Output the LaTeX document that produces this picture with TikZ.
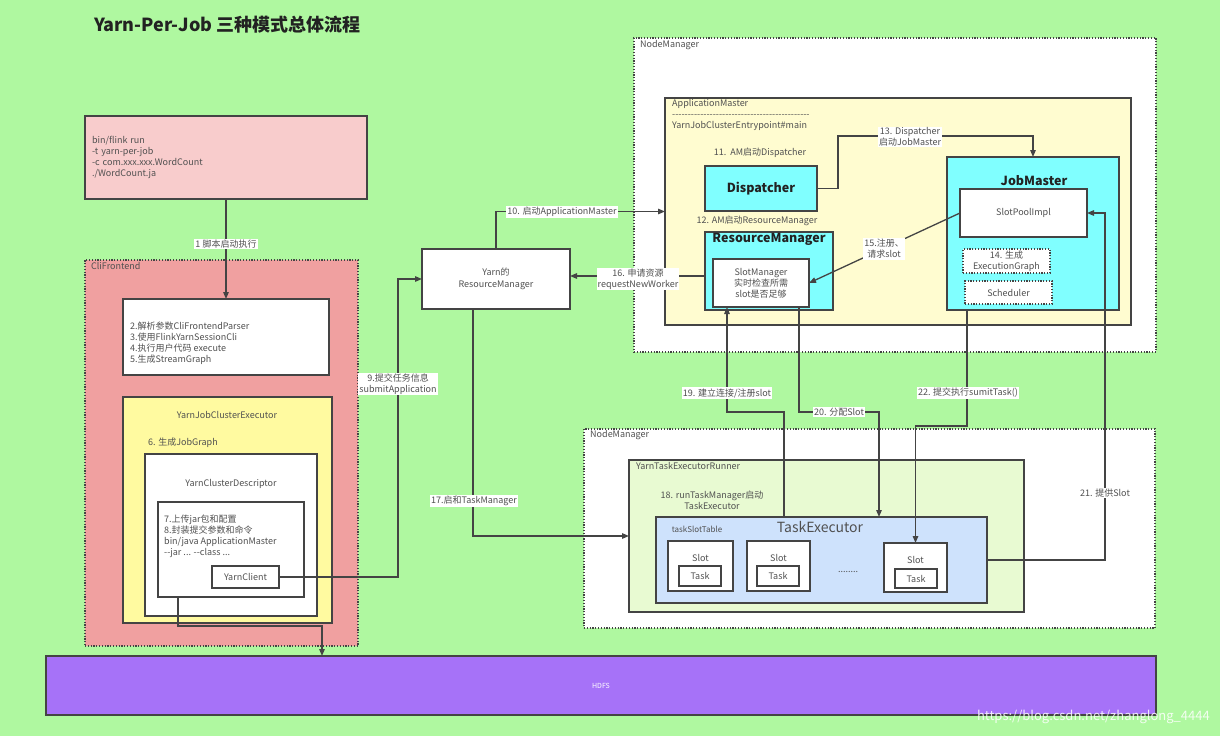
\documentclass[tikz,border=0pt]{standalone}
\usepackage{fontspec}
\setmainfont{Noto Sans CJK SC}
\usetikzlibrary{arrows.meta,positioning}

\definecolor{bggreen}{RGB}{175,248,160}
\definecolor{cmdpink}{RGB}{248,204,204}
\definecolor{clired}{RGB}{240,160,160}
\definecolor{execyellow}{RGB}{255,250,160}
\definecolor{amyellow}{RGB}{255,252,208}
\definecolor{amcyan}{RGB}{128,255,255}
\definecolor{runnergreen}{RGB}{232,250,210}
\definecolor{teblue}{RGB}{206,226,252}
\definecolor{hdfspurple}{RGB}{166,114,248}
\definecolor{linegray}{RGB}{68,68,68}
\definecolor{txtgray}{RGB}{80,80,80}
\definecolor{headgray}{RGB}{34,34,34}

\newcommand{\fs}[2]{\fontsize{#1}{#2}\selectfont}
\newcommand{\hy}{-\kern0pt}

\tikzset{
  box/.style={draw=linegray, line width=1.3pt, inner sep=0pt, outer sep=0pt, text=txtgray, align=center},
  dotbox/.style={box, line width=1.2pt, dash pattern=on 1.2pt off 1.6pt},
  flow/.style={draw=linegray, line width=1.3pt, -{Triangle[length=7pt,width=5.5pt]}},
  tag/.style={fill=white, inner sep=1pt, text=txtgray, align=center, font=\fs{9}{11}},
  note/.style={inner sep=0pt, text=txtgray, align=center, font=\fs{9}{11}},
  head/.style={inner sep=0pt, text=headgray, font=\bfseries\fs{12.5}{14}},
}

\begin{document}
\begin{tikzpicture}[x=1pt,y=-1pt]
\fill[bggreen] (0,0) rectangle (1220,736);
\useasboundingbox (0,0) rectangle (1220,736);

\node[note, anchor=west, font=\bfseries\fs{18}{21}, text=headgray] (title) at (94,25) {Yarn-Per-Job 三种模式总体流程};

% client side
\node[box, fill=cmdpink, minimum width=282pt, minimum height=83pt, text width=268pt, inner xsep=7pt, align=left, font=\fs{9}{11}] (cmd) at (226,157.5) {bin/flink run\\-t yarn-per-job\\-c com.xxx.xxx.WordCount\\./WordCount.ja};
\node[dotbox, fill=clired, minimum width=273pt, minimum height=386pt] (cli) at (221.5,453) {};
\node[note, anchor=west] (clititle) at (91,266) {CliFrontend};
\node[box, fill=white, minimum width=206pt, minimum height=76pt] (parse) at (226,337) {};
\node[note, anchor=west, align=left] (parsetxt) at (130,343.5) {2.解析参数CliFrontendParser\\3.使用FlinkYarnSessionCli\\4.执行用户代码 execute\\5.生成StreamGraph};
\node[box, fill=execyellow, minimum width=209pt, minimum height=226pt] (exec) at (227.5,510) {};
\node[note] (exectitle) at (227,415) {YarnJobClusterExecutor};
\node[note, anchor=west] (jobgraph) at (148,443) {6. 生成JobGraph};
\node[box, fill=white, minimum width=172pt, minimum height=162pt] (desc) at (231,535) {};
\node[note] (desctitle) at (231,484) {YarnClusterDescriptor};
\node[box, fill=white, minimum width=146pt, minimum height=95pt] (pack) at (231,549.5) {};
\node[note, anchor=west, align=left] (packtxt) at (164,536) {7.上传jar包和配置\\8.封装提交参数和命令\\bin/java ApplicationMaster\\\hy\hy jar ... \hy\hy class ...};
\node[box, fill=white, minimum width=67pt, minimum height=22pt, font=\fs{9}{11}] (yclient) at (245.5,577) {YarnClient};

\node[box, fill=white, minimum width=148pt, minimum height=60pt, font=\fs{9}{12}] (yrm) at (496,279) {Yarn的\\ResourceManager};

% application master
\node[dotbox, fill=white, minimum width=522pt, minimum height=314pt] (nmup) at (895,195) {};
\node[note, anchor=west] (nmuptitle) at (640,45) {NodeManager};
\node[box, fill=amyellow, minimum width=466pt, minimum height=227pt] (am) at (898,211.5) {};
\node[note, anchor=west, align=left] (amtitle) at (672,115) {ApplicationMaster\\\foreach \k in {1,...,44}{\hy}\\YarnJobClusterEntrypoint\#main};
\node[note] (step11) at (760,153) {11.\ \ AM启动Dispatcher};
\node[box, fill=amcyan, minimum width=112pt, minimum height=45pt, font=\bfseries\fs{12.5}{14}, text=headgray] (disp) at (761,188.5) {Dispatcher};
\node[note] (step12) at (757,221) {12. AM启动ResourceManager};
\node[box, fill=amcyan, minimum width=128pt, minimum height=78pt] (arm) at (769,271) {};
\node[head] (armtitle) at (769,239) {ResourceManager};
\node[box, fill=white, minimum width=96pt, minimum height=48pt, font=\fs{9}{11}] (sm) at (761,283) {SlotManager\\实时检查所需\\slot是否足够};
\node[box, fill=amcyan, minimum width=172pt, minimum height=153pt] (jm) at (1033,233.5) {};
\node[head] (jmtitle) at (1034,181) {JobMaster};
\node[box, fill=white, minimum width=127pt, minimum height=48pt, font=\fs{9}{11}] (spi) at (1023.5,213) {SlotPoolImpl};
\node[dotbox, fill=white, minimum width=87pt, minimum height=24pt, font=\fs{9}{11}] (egraph) at (1006.5,261) {14. 生成\\ExecutionGraph};
\node[dotbox, fill=white, minimum width=87pt, minimum height=23pt, font=\fs{9}{11}] (sched) at (1008.5,292.5) {Scheduler};

% task manager
\node[dotbox, fill=white, minimum width=571pt, minimum height=199pt] (nmdown) at (869.5,528.5) {};
\node[note, anchor=west] (nmdowntitle) at (590,435) {NodeManager};
\node[box, fill=runnergreen, minimum width=395pt, minimum height=152pt] (yter) at (826.5,536) {};
\node[note, anchor=west] (ytertitle) at (636,466) {YarnTaskExecutorRunner};
\node[note] (step18) at (712,500) {18. runTaskManager启动\\TaskExecutor};
\node[box, fill=teblue, minimum width=331pt, minimum height=86pt] (te) at (821.5,560) {};
\node[note, font=\fs{14}{16}] (tetitle) at (820,527) {TaskExecutor};
\node[note, font=\fs{8}{10}] (slottable) at (697,529) {taskSlotTable};
\node[box, fill=white, minimum width=65pt, minimum height=50pt] (slot1) at (700.5,566) {};
\node[note] (slot1txt) at (700.5,558) {Slot};
\node[box, fill=white, minimum width=42pt, minimum height=20pt, font=\fs{9}{11}] (task1) at (700,576) {Task};
\node[box, fill=white, minimum width=63pt, minimum height=50pt] (slot2) at (778.5,566) {};
\node[note] (slot2txt) at (778.5,558) {Slot};
\node[box, fill=white, minimum width=42pt, minimum height=20pt, font=\fs{9}{11}] (task2) at (778,576) {Task};
\node[note] (more) at (848,572) {........};
\node[box, fill=white, minimum width=63pt, minimum height=49pt] (slot3) at (915.5,567.5) {};
\node[note] (slot3txt) at (915.5,560) {Slot};
\node[box, fill=white, minimum width=42pt, minimum height=19pt, font=\fs{9}{11}] (task3) at (916,578.5) {Task};

\node[box, fill=hdfspurple, minimum width=1110pt, minimum height=59pt, text=white, font=\fs{7}{8}] (hdfs) at (601,685.5) {HDFS};

% connectors
\draw[flow] (cmd.south) -- (parse.north);
\draw[flow] (yclient.east) -| ([xshift=-24pt]yrm.west) -- (yrm.west);
\draw[flow] ([xshift=20pt]pack.south west) -- ++(0,29) -| ([xshift=276pt]hdfs.north west);
\draw[flow] (yrm.north) |- (am.west);
\draw[flow] ([xshift=51pt]yrm.south west) |- (yter.west);
\draw[flow] ([yshift=-5pt]arm.west) -- ([yshift=-5pt]arm.west -| yrm.east);
\draw[flow] (disp.east) -- ++(21,0) |- ([yshift=21pt]jm.north) -- (jm.north);
\draw[flow] (spi.west) -- (sm.east);
\draw[flow] ([xshift=128pt]te.north west) -- ++(0,-105) -| ([xshift=14pt]sm.south west);
\draw[flow] ([xshift=-10pt]sm.south east) -- ++(0,105) -| ([xshift=223pt]te.north west);
\draw[flow] ([xshift=20pt]jm.south west) -- ++(0,116) -| (slot3.north);
\draw[flow] (te.east) -- ++(118,0) |- (spi.east);

% connector labels
\node[tag] (l1) at (226,244) {1 脚本启动执行};
\node[tag] (l9) at (398,384) {9.提交任务信息\\submitApplication};
\node[tag] (l10) at (562,212) {10. 启动ApplicationMaster};
\node[tag] (l13) at (910,137) {13. Dispatcher\\启动JobMaster};
\node[tag] (l15) at (884,249) {15.注册、\\请求slot};
\node[tag] (l16) at (638,279) {16. 申请资源\\requestNewWorker};
\node[tag] (l17) at (474,501) {17.启和TaskManager};
\node[tag] (l19) at (727,393) {19. 建立连接/注册slot};
\node[tag] (l20) at (839,412) {20. 分配Slot};
\node[tag] (l21) at (1105,493) {21. 提供Slot};
\node[tag] (l22) at (968,393) {22. 提交执行sumitTask()};

\node[anchor=east, inner sep=0pt, text=white, opacity=0.85, font=\fs{13}{15}] (wmark) at (1210,717) {https://blog.csdn.net/zhanglong\_4444};
\end{tikzpicture}
\end{document}
